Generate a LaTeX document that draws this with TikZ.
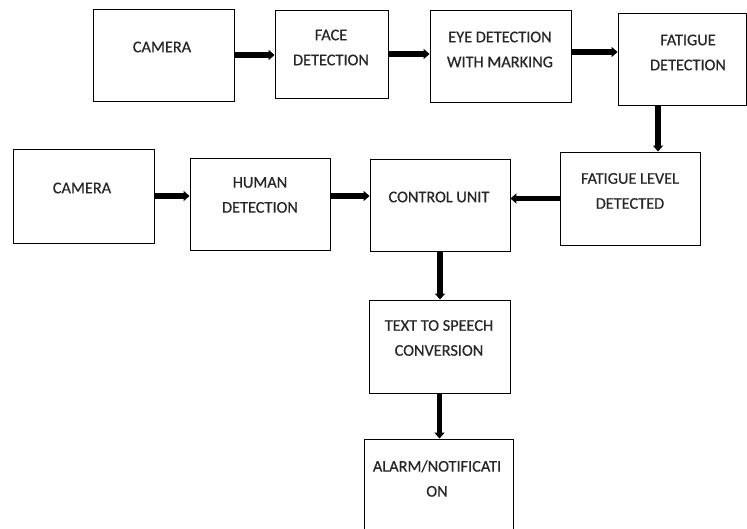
\documentclass[tikz,border=0pt]{standalone}
\usepackage{fontspec}
\setmainfont{Carlito}
\newfontfamily\lblfont{Carlito}[UprightFeatures={FakeBold=0.5}]
\usetikzlibrary{arrows.meta}
\begin{document}
\begin{tikzpicture}[x=1pt,y=-1pt,
  box/.style={draw=black, line width=0.9pt, fill=white, inner sep=0pt, minimum width=#1},
  lbl/.style={font=\lblfont\fontsize{16.3}{25}\selectfont, text=black!85, align=center, inner sep=0pt},
  conn/.style={line width=5.5pt, -{Triangle[length=6pt,width=10pt]}}]
\clip (0,0) rectangle (747,529);
\fill[white] (0,0) rectangle (747,529);
% boxes
\node[box=141pt, minimum height=92pt] (cam1) at (163.5,55) {};
\node[box=113pt, minimum height=88pt] (face) at (331.5,54) {};
\node[box=141pt, minimum height=92pt] (eye) at (500.5,56) {};
\node[box=128pt, minimum height=92pt] (fat) at (682,59) {};
\node[box=140pt, minimum height=93pt] (lev) at (630,198.5) {};
\node[box=140pt, minimum height=92pt] (ctrl) at (440,205) {};
\node[box=141pt, minimum height=94pt] (cam2) at (83.5,196) {};
\node[box=140pt, minimum height=92pt] (hum) at (260,204) {};
\node[box=141pt, minimum height=93pt] (tts) at (439.5,346.5) {};
\node[box=149pt, minimum height=96pt] (alarm) at (438.5,487) {};
% texts
\node[lbl] (t1) at (162,47) {CAMERA};
\node[lbl] (t2) at (331,47.5) {FACE\\DETECTION};
\node[lbl] (t3) at (500,49.5) {EYE DETECTION\\WITH MARKING};
\node[lbl] (t4) at (688,52.5) {FATIGUE\\DETECTION};
\node[lbl] (t5) at (630,191) {FATIGUE LEVEL\\DETECTED};
\node[lbl] (t6) at (439,197) {CONTROL UNIT};
\node[lbl] (t7) at (82,188) {CAMERA};
\node[lbl] (t8) at (260,195) {HUMAN\\DETECTION};
\node[lbl] (t9) at (439,338) {TEXT TO SPEECH\\CONVERSION};
\node[lbl] (t10) at (437,478.5) {ALARM/NOTIFICATI\\ON};
% connectors
\draw[conn] (cam1.east) -- (cam1.east -| face.west);
\draw[conn] (face.east) -- (face.east -| eye.west);
\draw[conn] ([yshift=4pt]eye.east) -- ([yshift=4pt]eye.east -| fat.west);
\draw[conn] ([xshift=-24pt]fat.south) -- ([xshift=-24pt]fat.south |- lev.north);
\draw[conn] (lev.west) -- (lev.west -| ctrl.east);
\draw[conn] (cam2.east) -- (cam2.east -| hum.west);
\draw[conn] ([yshift=8pt]hum.east) -- ([yshift=8pt]hum.east -| ctrl.west);
\draw[conn] (ctrl.south) -- (ctrl.south |- tts.north);
\draw[conn] (tts.south) -- (tts.south |- alarm.north);
\end{tikzpicture}
\end{document}
